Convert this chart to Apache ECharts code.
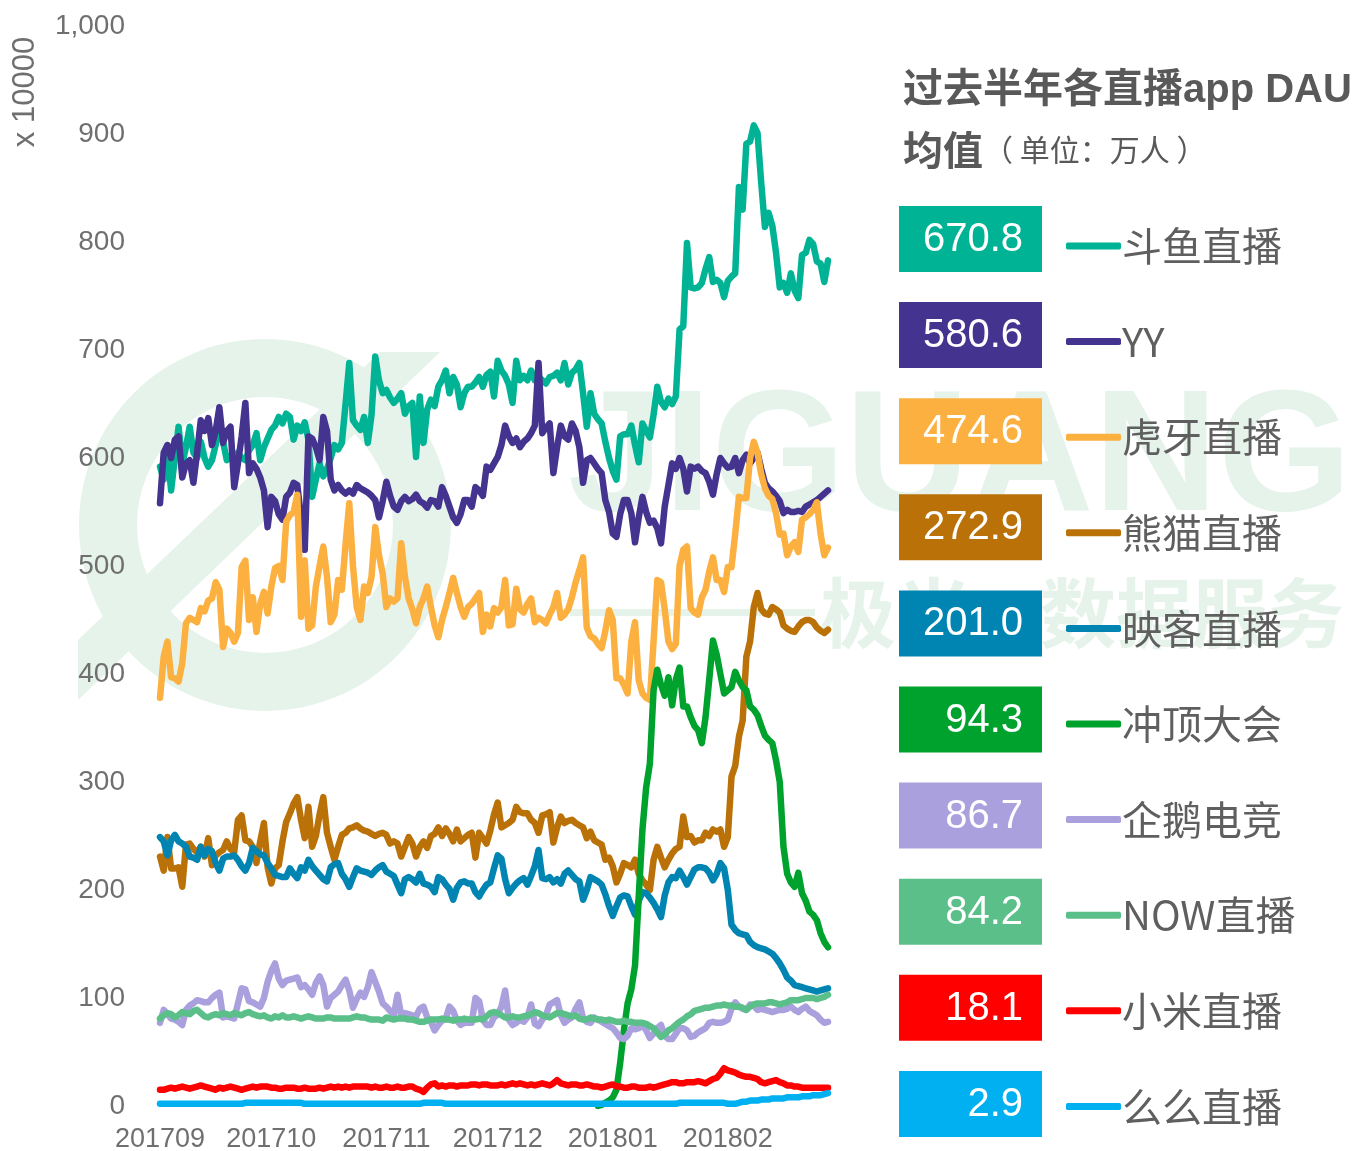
<!DOCTYPE html>
<html>
<head>
<meta charset="utf-8">
<script src="https://cdn.jsdelivr.net/npm/echarts@6/dist/echarts.min.js"></script>
<style>
  html, body { margin: 0; padding: 0; background: #fff; }
  #chart { width: 1354px; height: 1151px; }
</style>
</head>
<body>
<div id="chart"></div>
<script>
// daily categories 2017-09-01 .. 2018-02-28
const startDay = Date.UTC(2017, 8, 1)
const dayCount = 181
const categories = []
for (let i = 0; i < dayCount; i++) {
  const d = new Date(startDay + i * 86400000)
  categories.push('' + d.getUTCFullYear() + String(d.getUTCMonth() + 1).padStart(2, '0') + String(d.getUTCDate()).padStart(2, '0'))
}

const seriesNames = ['斗鱼直播', 'YY', '虎牙直播', '熊猫直播', '映客直播', '冲顶大会', '企鹅电竞', 'NOW直播', '小米直播', '么么直播']
const avgLabels = ['670.8', '580.6', '474.6', '272.9', '201.0', '94.3', '86.7', '84.2', '18.1', '2.9']
const yTicks = [0, 100, 200, 300, 400, 500, 600, 700, 800, 900, 1000]

const douyu = [
  592, 580, 605, 570, 600, 629, 595, 610, 629, 605,
  600, 615, 600, 592, 598, 612, 629, 615, 598, 602,
  595, 605, 600, 598, 607, 612, 623, 598, 610, 618,
  626, 630, 638, 632, 641, 638, 617, 630, 625, 633,
  617, 564, 580, 595, 583, 590, 600, 612, 608, 614,
  650, 688, 635, 630, 626, 638, 614, 640, 694, 672,
  660, 663, 656, 651, 655, 660, 641, 648, 651, 601,
  657, 614, 645, 654, 648, 666, 672, 681, 660, 675,
  668, 647, 660, 666, 666, 670, 675, 666, 677, 680,
  657, 690, 681, 676, 668, 651, 690, 672, 676, 672,
  681, 672, 675, 672, 669, 675, 676, 679, 672, 688,
  668, 679, 682, 688, 660, 629, 660, 641, 636, 632,
  615, 600, 588, 580, 620, 622, 622, 630, 612, 596,
  632, 625, 619, 640, 666, 652, 647, 655, 650, 657,
  719, 722, 799, 758, 757, 758, 762, 775, 786, 763,
  765, 762, 749, 764, 768, 771, 851, 830, 891, 893,
  908, 901, 855, 814, 827, 815, 790, 758, 762, 753,
  771, 755, 748, 788, 790, 802, 798, 782, 780, 763,
  783
]
const yy = [
  558, 605, 612, 600, 617, 620, 582, 595, 598, 577,
  605, 635, 625, 637, 612, 625, 647, 614, 625, 629,
  573, 595, 620, 651, 586, 595, 590, 582, 570, 536,
  564, 560, 548, 543, 564, 568, 577, 575, 545, 515,
  620, 618, 610, 598, 638, 625, 580, 570, 575, 570,
  567, 570, 567, 575, 572, 570, 568, 565, 561, 545,
  560, 578, 565, 555, 552, 560, 564, 560, 562, 566,
  560, 558, 554, 561, 560, 555, 573, 565, 555, 545,
  540, 548, 561, 561, 555, 573, 570, 565, 592, 589,
  595, 601, 612, 630, 620, 614, 618, 610, 615, 618,
  623, 630, 688, 623, 628, 632, 586, 610, 630, 620,
  617, 632, 625, 610, 577, 598, 600, 595, 590, 586,
  561, 550, 530, 527, 548, 561, 561, 549, 522, 545,
  564, 550, 540, 542, 535, 521, 555, 575, 595, 590,
  600, 590, 569, 592, 590, 592, 588, 586, 578, 566,
  585, 600, 595, 591, 592, 600, 586, 598, 603, 595,
  600, 605, 590, 577, 572, 569, 565, 560, 549, 552,
  550, 550, 551, 550, 555, 557, 559, 561, 564, 567,
  570
]
const huya = [
  378, 416, 430, 397, 396, 393, 410, 447, 452, 450,
  448, 461, 458, 468, 470, 485, 478, 425, 442, 438,
  430, 438, 499, 505, 450, 471, 439, 465, 476, 456,
  481, 498, 500, 487, 541, 547, 550, 566, 453, 505,
  442, 445, 481, 500, 518, 490, 448, 455, 487, 478,
  520, 558, 500, 462, 450, 481, 475, 490, 536, 510,
  493, 462, 470, 467, 470, 521, 490, 470, 460, 447,
  462, 470, 481, 462, 445, 434, 450, 462, 475, 489,
  475, 462, 453, 462, 465, 470, 475, 439, 455, 444,
  461, 457, 462, 487, 445, 446, 479, 460, 457, 465,
  470, 448, 452, 450, 447, 455, 462, 475, 452, 455,
  460, 471, 485, 496, 508, 443, 435, 433, 428, 424,
  440, 459, 450, 396, 396, 390, 382, 430, 448, 394,
  382, 378, 376, 430, 487, 485, 460, 430, 423, 428,
  500, 515, 518, 461, 457, 455, 471, 478, 495, 508,
  487, 487, 476, 499, 499, 530, 564, 563, 563, 600,
  615, 605, 585, 572, 565, 562, 549, 529, 530, 510,
  518, 522, 513, 543, 545, 548, 552, 559, 530, 510,
  517
]
const xiongmao = [
  231, 218, 249, 220, 220, 221, 203, 242, 243, 238,
  235, 240, 231, 248, 223, 232, 235, 237, 245, 238,
  235, 265, 269, 246, 245, 240, 225, 245, 262, 221,
  206, 220, 223, 245, 263, 271, 280, 286, 265, 248,
  277, 240, 250, 270, 286, 253, 240, 228, 240, 251,
  253, 257, 258, 260, 257, 255, 254, 252, 250, 252,
  253, 251, 243, 245, 243, 231, 240, 249, 243, 231,
  240, 245, 239, 250, 252, 258, 250, 257, 252, 245,
  256, 245, 248, 251, 253, 230, 253, 248, 243, 255,
  270, 281, 258, 260, 262, 265, 277, 272, 271, 271,
  265, 262, 253, 269, 270, 272, 244, 258, 268, 262,
  264, 265, 262, 260, 258, 248, 254, 246, 244, 242,
  228, 230, 222, 207, 215, 225, 223, 221, 228, 215,
  209, 205, 200, 228, 240, 230, 221, 228, 234, 238,
  240, 268, 249, 250, 244, 246, 246, 253, 250, 256,
  254, 256, 240, 249, 305, 315, 342, 357, 416, 430,
  462, 475, 460, 456, 455, 462, 460, 457, 445, 442,
  440, 439, 444, 448, 450, 450, 448, 443, 440, 438,
  441
]
const yingke = [
  249, 245, 232, 246, 251, 245, 243, 240, 231, 230,
  228, 240, 232, 238, 236, 225, 218, 229, 231, 231,
  232, 228, 222, 218, 225, 239, 236, 233, 232, 225,
  220, 214, 213, 212, 212, 220, 215, 211, 221, 218,
  228, 222, 218, 214, 210, 208, 221, 224, 225, 215,
  210, 203, 212, 220, 218, 217, 216, 214, 218, 221,
  223, 217, 215, 213, 205, 197, 210, 212, 210, 207,
  215, 206, 205, 203, 198, 212, 210, 205, 201, 191,
  202, 207, 208, 206, 206, 198, 194, 200, 205, 207,
  220, 232, 229, 210, 197, 202, 206, 209, 211, 205,
  213, 222, 237, 211, 210, 212, 207, 210, 206, 215,
  218, 214, 210, 208, 191, 200, 212, 210, 208, 205,
  196, 185, 176, 185, 193, 195, 194, 185, 177, 190,
  198, 197, 193, 188, 182, 175, 195, 207, 212, 211,
  218, 212, 205, 212, 219, 221, 221, 220, 216, 209,
  215, 225, 220, 200, 168, 163, 160, 159, 158, 152,
  149, 147, 146, 145, 143, 141, 137, 132, 126, 119,
  116, 112, 111, 110, 109, 108, 107, 106, 107, 108,
  109
]
// no line is drawn before the launch in early January
const chongding = [
  null, null, null, null, null, null, null, null, null, null,
  null, null, null, null, null, null, null, null, null, null,
  null, null, null, null, null, null, null, null, null, null,
  null, null, null, null, null, null, null, null, null, null,
  null, null, null, null, null, null, null, null, null, null,
  null, null, null, null, null, null, null, null, null, null,
  null, null, null, null, null, null, null, null, null, null,
  null, null, null, null, null, null, null, null, null, null,
  null, null, null, null, null, null, null, null, null, null,
  null, null, null, null, null, null, null, null, null, null,
  null, null, null, null, null, null, null, null, null, null,
  null, null, null, null, null, null, null, null, 0, 1,
  3, 5, 8, 15, 40, 70, 95, 108, 130, 194,
  256, 295, 317, 385, 404, 390, 380, 397, 371, 395,
  406, 370, 370, 360, 352, 348, 336, 360, 395, 431,
  418, 400, 382, 385, 388, 402, 394, 388, 385, 370,
  367, 362, 352, 343, 339, 336, 320, 300, 240, 215,
  207, 203, 216, 197, 190, 180, 177, 172, 160, 152,
  147
]
const qie = [
  77, 89, 85, 81, 80, 78, 75, 89, 93, 95,
  98, 97, 96, 96, 100, 103, 105, 82, 83, 82,
  81, 95, 109, 108, 97, 96, 94, 92, 100, 115,
  125, 132, 118, 112, 116, 117, 118, 119, 110, 112,
  108, 103, 114, 120, 112, 92, 100, 103, 106, 112,
  117, 107, 91, 99, 105, 101, 110, 124, 115, 106,
  95, 92, 88, 84, 103, 84, 86, 85, 84, 83,
  90, 92, 82, 78, 70, 75, 79, 81, 92, 88,
  79, 75, 77, 77, 77, 100, 97, 80, 75, 75,
  82, 85, 92, 107, 80, 75, 77, 80, 78, 82,
  94, 76, 74, 80, 84, 94, 96, 98, 84, 77,
  80, 82, 90, 96, 81, 78, 77, 82, 80, 78,
  76, 74, 72, 68, 63, 62, 65, 72, 71, 72,
  75, 70, 63, 67, 72, 75, 65, 62, 62, 67,
  72, 72, 70, 64, 65, 68, 70, 72, 77, 78,
  77, 77, 78, 80, 90, 96, 92, 90, 89, 94,
  93, 89, 90, 89, 88, 87, 88, 89, 89, 90,
  92, 89, 87, 90, 92, 88, 86, 84, 80, 77,
  78
]
const nowLive = [
  81, 84, 86, 85, 82, 84, 87, 86, 85, 88,
  89, 86, 83, 82, 84, 85, 84, 86, 85, 84,
  86, 85, 84, 86, 87, 85, 84, 83, 84, 82,
  81, 83, 82, 84, 82, 82, 83, 82, 81, 82,
  83, 82, 81, 81, 81, 82, 82, 81, 81, 81,
  81, 81, 82, 83, 82, 82, 81, 80, 80, 80,
  79, 82, 81, 80, 81, 81, 81, 80, 80, 79,
  78, 78, 79, 80, 80, 80, 81, 80, 80, 79,
  80, 80, 81, 80, 80, 80, 81, 80, 83, 86,
  87, 86, 84, 82, 82, 83, 82, 82, 83, 84,
  85, 87, 86, 84, 83, 82, 84, 86, 86, 85,
  84, 83, 84, 81, 80, 80, 82, 81, 80, 80,
  79, 80, 79, 78, 78, 79, 78, 78, 77, 77,
  77, 76, 74, 72, 68, 64, 66, 70, 72, 75,
  78, 80, 83, 85, 88, 89, 90, 91, 91, 92,
  93, 93, 94, 93, 93, 92, 92, 91, 89, 92,
  94, 95, 95, 95, 96, 96, 95, 94, 95, 96,
  98, 98, 98, 99, 100, 100, 100, 99, 100, 101,
  103
]
const xiaomi = [
  15, 15, 16, 17, 16, 17, 18, 17, 16, 17,
  18, 19, 18, 17, 16, 15, 17, 16, 17, 18,
  17, 16, 15, 16, 17, 18, 17, 18, 18, 18,
  17, 17, 16, 16, 17, 17, 17, 16, 16, 17,
  16, 16, 16, 17, 16, 17, 18, 17, 18, 17,
  18, 17, 18, 18, 18, 18, 18, 17, 18, 17,
  17, 18, 17, 17, 18, 17, 17, 18, 18, 16,
  15, 13, 17, 20, 21, 18, 19, 18, 19, 19,
  18, 19, 19, 19, 20, 20, 19, 20, 20, 19,
  19, 19, 20, 19, 20, 21, 20, 21, 20, 19,
  20, 19, 20, 21, 20, 19, 21, 24, 21, 20,
  19, 20, 20, 19, 19, 20, 19, 18, 18, 17,
  18, 19, 20, 18, 18, 17, 17, 18, 18, 17,
  17, 17, 18, 17, 18, 19, 20, 21, 22, 22,
  21, 21, 22, 22, 22, 23, 22, 21, 23, 25,
  26, 30, 35, 33, 32, 31, 29, 28, 27, 27,
  26, 25, 22, 21, 22, 23, 24, 22, 21, 19,
  19, 18, 18, 17, 17, 17, 17, 17, 17, 17,
  17
]
const meme = [
  2, 2, 2, 2, 2, 2, 2, 2, 2, 2,
  2, 2, 2, 2, 2, 2, 2, 2, 2, 2,
  2, 2, 2, 3, 3, 3, 3, 3, 3, 3,
  3, 3, 3, 3, 3, 3, 3, 3, 3, 2,
  2, 2, 2, 2, 2, 2, 2, 2, 2, 2,
  2, 2, 2, 2, 2, 2, 2, 2, 2, 2,
  2, 2, 2, 2, 2, 2, 2, 2, 2, 2,
  2, 3, 3, 3, 3, 3, 3, 2, 2, 2,
  2, 2, 2, 2, 2, 2, 2, 2, 2, 2,
  2, 2, 2, 2, 2, 2, 2, 2, 2, 2,
  2, 2, 2, 2, 2, 2, 2, 2, 2, 2,
  2, 2, 2, 2, 2, 2, 2, 2, 2, 2,
  2, 2, 2, 2, 2, 2, 2, 2, 2, 2,
  2, 2, 2, 2, 2, 2, 2, 2, 2, 2,
  3, 3, 3, 3, 3, 3, 3, 3, 3, 3,
  3, 3, 3, 2, 2, 2, 3, 4, 4, 5,
  5, 5, 6, 6, 6, 7, 7, 7, 7, 8,
  8, 8, 8, 9, 9, 9, 10, 10, 10, 11,
  12
]

const allSeries = [douyu, yy, huya, xiongmao, yingke, chongding, qie, nowLive, xiaomi, meme]
const colors = ['#00B395', '#44338F', '#FBB040', '#BA7208', '#0085B3', '#00A22E', '#ABA0DE', '#5BBF89', '#FF0000', '#00B0F0']

const baseFont = '"Liberation Sans", "Noto Sans CJK SC", sans-serif'
const cjkFont = '"Noto Sans CJK SC", "Liberation Sans", sans-serif'
const markColor = '#E5F3EB'

const chart = echarts.init(document.getElementById('chart'))

// right side panel: colored boxes with average values
const panel = []
avgLabels.forEach(function(label, k) {
  const top = 206 + k * 96.1
  panel.push({
    type: 'rect',
    shape: { x: 899, y: top, width: 143, height: 66 },
    style: { fill: colors[k] }
  })
  panel.push({
    type: 'text',
    style: {
      text: label, x: 1023, y: top + 34, align: 'right', verticalAlign: 'middle',
      fill: '#fff', fontSize: 40, fontFamily: baseFont
    }
  })
})

const watermark = [
  { type: 'ring', z: -5, silent: true, shape: { cx: 265, cy: 525, r: 186, r0: 128 }, style: { fill: markColor } },
  { type: 'polygon', z: -5, silent: true, shape: { points: [[78, 700], [78, 640], [380, 352], [440, 352]] }, style: { fill: markColor } },
  { type: 'text', z: -5, silent: true, style: { text: 'JIGUANG', x: 568, y: 463, verticalAlign: 'middle', fontSize: 172, fontWeight: 'bold', fontFamily: baseFont, fill: markColor } },
  { type: 'rect', z: -5, silent: true, shape: { x: 570, y: 609, width: 245, height: 7 }, style: { fill: markColor } },
  { type: 'text', z: -5, silent: true, style: { text: '极光', x: 820, y: 613, verticalAlign: 'middle', fontSize: 76, fontWeight: 'bold', fontFamily: cjkFont, fill: markColor } },
  { type: 'text', z: -5, silent: true, style: { text: '数据服务', x: 1040, y: 613, verticalAlign: 'middle', fontSize: 76, fontWeight: 'bold', fontFamily: cjkFont, fill: markColor } }
]

const titles = [
  {
    type: 'text',
    style: {
      text: '过去半年各直播app DAU', x: 903, y: 91, verticalAlign: 'middle',
      fontSize: 40, fontWeight: 'bold', fontFamily: baseFont, fill: '#595959'
    }
  },
  {
    type: 'text',
    style: {
      text: '{a|均值}{b|（ 单位：万人 ）}', x: 903, y: 150, verticalAlign: 'middle',
      rich: {
        a: { fontSize: 40, fontWeight: 'bold', fontFamily: cjkFont, fill: '#595959' },
        b: { fontSize: 30, fontFamily: cjkFont, fill: '#595959' }
      }
    }
  },
  {
    type: 'text',
    rotation: Math.PI / 2,
    x: 25, y: 92,
    style: {
      text: 'x 10000', x: 0, y: 0, align: 'center', verticalAlign: 'middle',
      fontSize: 31, fontFamily: baseFont, fill: '#6f6f6f'
    }
  }
]

const option = {
  animation: false,
  backgroundColor: '#fff',
  grid: { left: 160, right: 526, top: 26, bottom: 45, containLabel: false, outerBoundsMode: 'none' },
  legend: {
    orient: 'vertical',
    left: 1061,
    top: 221,
    itemWidth: 55,
    itemHeight: 7,
    itemGap: 55.6,
    icon: 'roundRect',
    selectedMode: false,
    data: seriesNames,
    textStyle: { fontSize: 40, lineHeight: 40, color: '#5f5f5f', fontFamily: cjkFont, padding: [0, 0, 0, -4] }
  },
  xAxis: {
    type: 'category',
    boundaryGap: false,
    data: categories,
    axisLine: { show: false },
    axisTick: { show: false },
    splitLine: { show: false },
    axisLabel: {
      interval: function(index, value) { return value.slice(6) === '01' },
      formatter: function(value) { return value.slice(0, 6) },
      margin: 20,
      fontSize: 27,
      color: '#6f6f6f',
      fontFamily: baseFont
    }
  },
  yAxis: {
    type: 'value',
    min: yTicks[0],
    max: yTicks[yTicks.length - 1],
    interval: 100,
    axisLine: { show: false },
    axisTick: { show: false },
    splitLine: { show: false },
    axisLabel: {
      margin: 35,
      fontSize: 28,
      color: '#6f6f6f',
      fontFamily: baseFont,
      formatter: function(v) { return v.toLocaleString('en-US') }
    }
  },
  graphic: watermark.concat(titles, panel),
  series: seriesNames.map(function(name, k) {
    return {
      name: name,
      type: 'line',
      data: allSeries[k],
      showSymbol: false,
      symbol: 'none',
      color: colors[k],
      lineStyle: { width: 6.5, color: colors[k], cap: 'round', join: 'round' }
    }
  })
}

chart.setOption(option)
</script>
</body>
</html>
